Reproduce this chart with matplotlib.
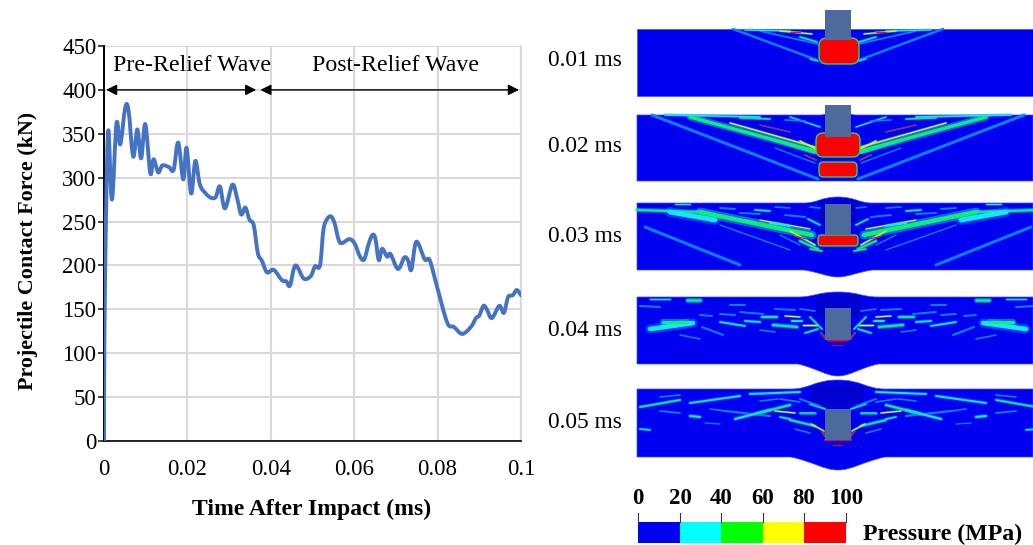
import matplotlib
matplotlib.use('Agg')
import matplotlib.pyplot as plt
from matplotlib.patches import FancyBboxPatch, PathPatch, Rectangle
from matplotlib.path import Path

plt.rcParams['font.family'] = ['Liberation Serif', 'DejaVu Serif']

# 力-时间曲线
time_ms = [0, 0.0001, 0.0005, 0.00104, 0.0019, 0.003, 0.0039, 0.0051, 0.0059, 0.007, 0.008, 0.0089, 0.0099,
           0.0111, 0.0119, 0.013, 0.014, 0.0156, 0.0167, 0.0178, 0.019, 0.0198, 0.0209, 0.0219, 0.023,
           0.0244, 0.0257, 0.0268, 0.0278, 0.029, 0.0308, 0.032, 0.0329, 0.0339, 0.0349, 0.0359, 0.0369,
           0.0379, 0.0391, 0.0407, 0.0427, 0.0437, 0.0446, 0.0459, 0.0479, 0.0496, 0.0506, 0.0518, 0.0526,
           0.0534, 0.0544, 0.0553, 0.0566, 0.0588, 0.0601, 0.0614, 0.0624, 0.0635, 0.0644, 0.0651, 0.0659,
           0.0667, 0.0679, 0.0687, 0.0705, 0.072, 0.0729, 0.0737, 0.0749, 0.0769, 0.0781, 0.0798, 0.0823,
           0.0839, 0.0859, 0.088, 0.0892, 0.09, 0.091, 0.0918, 0.093, 0.0948, 0.0959, 0.0969, 0.098, 0.099, 0.1]
force_kn = [0, 120, 260, 354, 275, 362, 338, 380, 376, 324, 355, 322, 361,
            305, 321, 306, 314, 312, 309, 340, 298, 334, 282, 319, 292,
            282, 277, 278, 290, 265, 292, 275, 258, 266, 252, 246, 214,
            205, 192, 195, 183, 182, 177, 200, 185, 188, 199, 200, 240,
            252, 256, 248, 226, 230, 225, 210, 207, 225, 235, 230, 206,
            219, 210, 213, 196, 209, 206, 195, 227, 207, 206, 177, 135,
            130, 122, 130, 140, 143, 154, 150, 140, 154, 146, 164, 166, 172, 166]
x_ticks = [0, 0.02, 0.04, 0.06, 0.08, 0.1]
x_tick_labels = ['0', '0.02', '0.04', '0.06', '0.08', '0.1']
y_ticks = [0, 50, 100, 150, 200, 250, 300, 350, 400, 450]

# 右侧云图
time_labels = ['0.01 ms', '0.02 ms', '0.03 ms', '0.04 ms', '0.05 ms']
label_y = [58, 144, 234, 328, 421]
legend_values = ['0', '20', '40', '60', '80', '100']
legend_colors = ['#0000f0', '#00ffff', '#00ff00', '#ffff00', '#ff0000']

BLUE = '#0000f0'
DARK = '#0000b4'
SKY = '#0a82ff'
CYAN = '#19e6f5'
GREEN = '#10f070'
YEL = '#e8f000'
RED = '#ff0000'
BLOCK = '#4c6a9c'

panel_top = [29, 115, 203, 297, 389]
panel_bottom = [96, 181, 270, 364, 457]
bump_half = [0, 18, 34, 40, 47]
bump_up = [0, 4, 6, 5, 9]
bump_down = [0, 0, 7, 12, 13]
block_y = [(10, 40), (105, 137), (204, 235), (308, 340), (409, 440)]
red_zones = [[(819, 38, 40, 26)],
             [(816, 133, 44, 24), (819, 162, 38, 15)],
             [(818, 235, 40, 11)],
             [(827, 340, 22, 1.5), (832, 345, 12, 0.8)],
             [(824, 439, 28, 2), (833, 445, 10, 1)]]

# 条纹: x0, y0, x1, y1 (相对面板顶部), 颜色, 线宽; 左右镜像
streaks = [
    [(733, 0, 817, 31, SKY, 1.8), (760, 2, 818, 15, SKY, 1.3), (745, 1, 790, 2, CYAN, 1),
     (780, 2, 812, 5, YEL, 0.9), (800, 8, 817, 13, GREEN, 1), (790, 3, 800, 3, RED, 0.7),
     (810, 30, 818, 32, CYAN, 1)],
    [(652, 0, 818, 64, SKY, 2.2), (665, 0, 760, 2, CYAN, 1.2), (690, 2, 815, 36, GREEN, 2.4),
     (730, 8, 815, 32, YEL, 1), (760, 10, 790, 17, RED, 0.6), (770, 24, 815, 38, GREEN, 1),
     (775, 33, 815, 48, SKY, 1), (790, 2, 820, 12, CYAN, 1), (740, 3, 770, 4, GREEN, 1),
     (785, 5, 805, 6, SKY, 1.2), (800, 26, 816, 34, YEL, 1), (805, 40, 816, 45, RED, 0.7)],
    [(637, 7, 700, 9, GREEN, 1.6), (700, 9, 812, 32, GREEN, 3.2), (670, 9, 715, 17, CYAN, 3.6),
     (645, 24, 740, 62, SKY, 2.2), (720, 22, 790, 47, SKY, 1), (760, 17, 810, 26, YEL, 0.8),
     (790, 28, 815, 42, YEL, 1), (800, 38, 818, 46, GREEN, 1.4), (675, 1, 690, 1, CYAN, 1),
     (720, 5, 735, 6, SKY, 1.4), (755, 7, 770, 8, CYAN, 1.2), (785, 12, 805, 14, SKY, 1.4),
     (740, 10, 760, 11, SKY, 1.4), (770, 20, 790, 23, CYAN, 1.5), (795, 33, 806, 36, RED, 0.7),
     (810, 46, 822, 48, GREEN, 1), (775, 4, 790, 5, SKY, 1.2), (810, 4, 820, 5, SKY, 1.2),
     (808, 16, 820, 22, GREEN, 1), (780, 32, 800, 42, SKY, 1)],
    [(640, 9, 660, 10, SKY, 1.4), (687, 3, 700, 3, GREEN, 1.8), (650, 32, 693, 26, CYAN, 3.4),
     (663, 25, 687, 25, GREEN, 2.2), (702, 30, 723, 38, SKY, 1.5), (720, 25, 745, 29, CYAN, 1.3),
     (740, 15, 763, 17, SKY, 1.4), (762, 20, 777, 20, GREEN, 1.4), (773, 28, 797, 30, GREEN, 1.6),
     (803, 28, 817, 28, YEL, 1), (810, 20, 822, 32, GREEN, 1), (745, 24, 760, 25, CYAN, 1.4),
     (775, 12, 795, 13, SKY, 1.4), (720, 17, 735, 18, SKY, 1.4), (821, 36, 826, 42, RED, 0.8),
     (730, 8, 745, 8, SKY, 1.4), (700, 18, 712, 19, SKY, 1.4), (785, 19, 800, 20, YEL, 0.9),
     (792, 24, 802, 24, CYAN, 1.4), (760, 33, 775, 35, SKY, 1.2), (800, 12, 815, 14, SKY, 1.2),
     (650, 2, 670, 2, CYAN, 1), (805, 36, 818, 32, CYAN, 1.2), (680, 38, 700, 42, SKY, 1.2)],
    [(640, 18, 680, 11, GREEN, 1.2), (690, 14, 740, 7, CYAN, 1.4), (750, 5, 800, 3, CYAN, 1.4),
     (725, 22, 770, 27, SKY, 1.6), (735, 30, 770, 21, CYAN, 1.6), (755, 25, 790, 16, GREEN, 1.4),
     (690, 27, 700, 28, CYAN, 1.6), (790, 31, 815, 37, GREEN, 1.3), (810, 15, 825, 20, CYAN, 1.2),
     (640, 40, 650, 41, CYAN, 1.2), (800, 10, 820, 17, SKY, 1.4), (660, 22, 680, 24, SKY, 1.3),
     (780, 10, 800, 13, SKY, 1.3), (811, 35, 824, 42, YEL, 0.9), (822, 42, 826, 48, RED, 1),
     (775, 22, 795, 24, YEL, 0.9), (800, 24, 815, 24, GREEN, 1.2), (710, 20, 725, 22, SKY, 1.2),
     (760, 12, 778, 10, SKY, 1.2), (705, 34, 720, 35, SKY, 1), (795, 40, 810, 44, SKY, 1.2),
     (660, 8, 680, 6, SKY, 1.2), (780, 28, 790, 30, CYAN, 1.2)],
]


def smooth_path(xs, ys, tension=1 / 6):
    # 和Excel平滑线一样,过每个读数点画贝塞尔
    pts = list(zip(xs, ys))
    verts = [pts[0]]
    codes = [Path.MOVETO]
    for i in range(len(pts) - 1):
        p0 = pts[max(i - 1, 0)]
        p1 = pts[i]
        p2 = pts[i + 1]
        p3 = pts[min(i + 2, len(pts) - 1)]
        verts.append((p1[0] + (p2[0] - p0[0]) * tension, p1[1] + (p2[1] - p0[1]) * tension))
        verts.append((p2[0] - (p3[0] - p1[0]) * tension, p2[1] - (p3[1] - p1[1]) * tension))
        verts.append(p2)
        codes += [Path.CURVE4] * 3
    return Path(verts, codes)


fig = plt.figure(figsize=(10.33, 5.45), dpi=100)
W, H = 1033, 545

# 曲线图
ax = fig.add_axes([104 / W, 1 - 441 / H, 417 / W, 395 / H])
ax.add_patch(PathPatch(smooth_path(time_ms, force_kn), fc='none', ec='#4472c4', lw=2.8,
                       joinstyle='round', capstyle='round', zorder=3))
ax.set_xlim(0, 0.1)
ax.set_ylim(0, 450)
ax.set_xticks(x_ticks)
ax.set_xticklabels(x_tick_labels)
ax.set_yticks(y_ticks)
ax.tick_params(axis='both', labelsize=16.5, length=4, width=1.2, color='#222222', pad=1.5)
ax.tick_params(axis='x', length=0, pad=13)
ax.grid(color='#d9d9d9', lw=1.5)
ax.set_axisbelow(True)
ax.spines['top'].set_visible(False)
ax.spines['right'].set_color('#d9d9d9')
ax.spines['right'].set_linewidth(1.5)
ax.spines['left'].set_linewidth(1.4)
ax.spines['bottom'].set_linewidth(1.2)
ax.set_xlabel('Time After Impact (ms)', fontsize=17, fontweight='bold')
ax.xaxis.set_label_coords(208 / 417, -58 / 395)
ax.set_ylabel('Projectile Contact Force (kN)', fontsize=15.8, fontweight='bold')
ax.yaxis.set_label_coords(-66 / 417, 190 / 395)

ax.annotate('', xy=(0.0005, 400), xytext=(0.0365, 400),
            arrowprops=dict(arrowstyle='<|-|>', color='black', lw=1, mutation_scale=16, shrinkA=0, shrinkB=0))
ax.annotate('', xy=(0.0375, 400), xytext=(0.0995, 400),
            arrowprops=dict(arrowstyle='<|-|>', color='black', lw=1, mutation_scale=16, shrinkA=0, shrinkB=0))
ax.text(0.0212, 428, 'Pre-Relief Wave', fontsize=17.2, ha='center', va='center')
ax.text(0.0698, 428, 'Post-Relief Wave', fontsize=17.2, ha='center', va='center')

# 云图和图例,坐标用像素
bg = fig.add_axes([0, 0, 1, 1], facecolor='none')
bg.set_xlim(0, W)
bg.set_ylim(H, 0)
bg.axis('off')
CX = 838


def panel_path(top, bot, hw, up, down):
    verts = [(637, top)]
    codes = [Path.MOVETO]
    if hw:
        verts += [(CX - hw, top), (CX - hw * 0.6, top), (CX - hw * 0.5, top - up), (CX, top - up),
                  (CX + hw * 0.5, top - up), (CX + hw * 0.6, top), (CX + hw, top)]
        codes += [Path.LINETO] + [Path.CURVE4] * 6
    verts += [(W, top), (W, bot)]
    codes += [Path.LINETO, Path.LINETO]
    if hw:
        verts += [(CX + hw, bot), (CX + hw * 0.5, bot + down * 0.4), (CX + hw * 0.3, bot + down), (CX, bot + down),
                  (CX - hw * 0.3, bot + down), (CX - hw * 0.5, bot + down * 0.4), (CX - hw, bot)]
        codes += [Path.LINETO] + [Path.CURVE4] * 6
    verts += [(637, bot), (637, top)]
    codes += [Path.LINETO, Path.CLOSEPOLY]
    return Path(verts, codes)


for i in range(5):
    top, bot = panel_top[i], panel_bottom[i]
    hw = bump_half[i]
    bg.add_patch(PathPatch(panel_path(top, bot, hw, bump_up[i], bump_down[i]), fc=BLUE, ec='#3a50ff', lw=0.5, zorder=2))
    if hw and bump_up[i] > 4:
        bg.add_patch(Rectangle((CX - hw * 0.55, top - bump_up[i] * 0.5), hw * 1.1, 22, fc=DARK, ec='none',
                               alpha=0.55, zorder=2.5))
    for x0, y0, x1, y1, c, lw in streaks[i]:
        for xa, xb in [(x0, x1), (2 * CX - x0, 2 * CX - x1)]:
            if c != SKY:
                bg.plot([xa, xb], [top + y0, top + y1], color=SKY if c == CYAN else CYAN, lw=lw * 2,
                        alpha=0.45, solid_capstyle='round', zorder=3)
            bg.plot([xa, xb], [top + y0, top + y1], color=c, lw=lw, solid_capstyle='round', zorder=3.2)
    for x, y, w, h in red_zones[i]:
        r = min(w, h) * 0.3
        edge = GREEN if h > 5 else 'none'
        bg.add_patch(FancyBboxPatch((x, y), w, h, boxstyle='round,pad=0,rounding_size=%g' % r,
                                    fc=RED, ec=edge, lw=0.9, zorder=5))
    y0, y1 = block_y[i]
    bg.add_patch(Rectangle((825, y0), 26, y1 - y0, fc=BLOCK, ec='none', zorder=6))
    bg.text(585, label_y[i] + 2, time_labels[i], fontsize=16.8, ha='center', va='center', zorder=7)

seg = [638, 680, 721, 763, 804, 846]
for i in range(5):
    bg.add_patch(Rectangle((seg[i], 522), seg[i + 1] - seg[i], 21, fc=legend_colors[i], ec='none'))
for i in range(6):
    bg.plot([seg[i], seg[i]], [513, 522], color='#333333', lw=0.8)
    bg.text(seg[i], 499, legend_values[i], fontsize=16.5, fontweight='bold', ha='center', va='center')
bg.text(863, 534, 'Pressure (MPa)', fontsize=17.2, fontweight='bold', ha='left', va='center')

plt.savefig('out.png', dpi=100)
